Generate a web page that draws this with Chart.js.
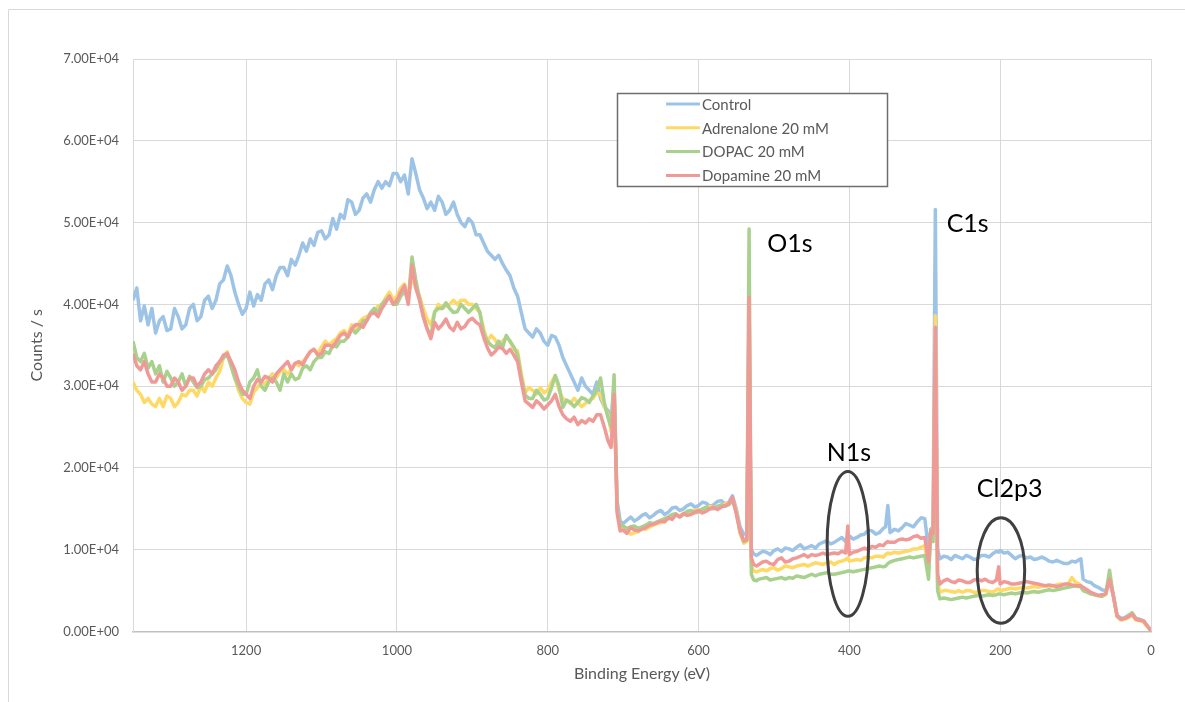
<!DOCTYPE html>
<html>
<head>
<meta charset="utf-8">
<script src="https://cdn.jsdelivr.net/npm/chart.js@4.4.1/dist/chart.umd.min.js"></script>
<style>
  html, body { margin: 0; padding: 0; background: #fff; }
  #wrap { width: 1185px; height: 702px; position: relative; }
</style>
</head>
<body>
<div id="wrap"><canvas id="xps"></canvas></div>
<script>
// binding energy grid (eV), shared by all four spectra, 10 points per row
const energyEV = [
  1350,1345,1340,1335,1330,1325,1320,1315,1310,1305,
  1300,1295,1290,1285,1280,1275,1270,1265,1260,1255,
  1250,1245,1240,1235,1230,1225,1220,1215,1210,1205,
  1200,1195,1190,1185,1180,1175,1170,1165,1160,1155,
  1150,1145,1140,1135,1130,1125,1120,1115,1110,1105,
  1100,1095,1090,1085,1080,1075,1070,1065,1060,1055,
  1050,1045,1040,1035,1030,1025,1020,1015,1010,1005,
  1000,995,990,985,980,975,970,965,960,955,
  950,945,940,935,930,925,920,915,910,905,
  900,895,890,885,880,875,870,865,860,855,
  850,845,840,835,830,825,820,815,810,805,
  800,795,790,785,780,775,770,765,760,755,
  750,745,740,735,730,725,720,716,712,708,
  704,700,695,690,685,680,675,670,665,660,
  655,650,645,640,635,630,625,620,615,610,
  605,600,595,590,585,580,575,570,565,560,
  555,550,545,540,536,533,530,527,523,520,
  515,510,505,500,495,490,485,480,475,470,
  465,460,455,450,445,440,435,430,425,420,
  415,410,405,402,400,395,390,385,380,375,
  370,365,360,355,352,349,346,340,335,330,
  325,320,315,310,305,300,295,292,289,286,
  283,280,275,270,265,260,255,250,245,240,
  235,230,225,220,215,210,205,202,200,195,
  190,185,180,175,170,165,160,155,150,145,
  140,135,130,125,120,115,110,105,100,95,
  93,90,85,80,75,70,65,60,55,50,
  45,40,35,30,25,20,15,10,5,0
];

// counts / s
const control = [
  40500,42000,38000,39800,37500,39500,36500,38000,38500,36800,
  37000,39500,38500,37000,37500,39500,40000,38000,38500,40500,
  41000,39500,40500,42500,43000,44700,43500,41500,40000,38800,
  39500,41500,39800,41200,40500,42500,43000,41800,43500,44500,
  44500,43500,45500,44800,46000,47500,46500,48000,47200,48800,
  49000,48000,48500,50500,49200,51000,50500,52800,52500,51000,
  51500,53000,53500,52500,54000,55000,54200,55000,54500,56000,
  56000,55000,55800,53500,57800,56000,54000,53000,51700,52500,
  51500,53200,52500,51000,51500,52500,51000,50000,49500,50500,
  50000,48500,48500,47500,46500,46000,45500,46000,45000,44200,
  43500,42000,41000,39000,37000,36500,36000,37000,36500,35500,
  35000,36200,36000,35000,33500,32500,31500,30500,29500,31000,
  30000,29500,29000,30500,28500,27500,27000,25500,30000,16000,
  13500,13200,13600,14000,13500,13800,14200,14400,13900,14200,
  14600,14800,14300,14600,15100,15200,14800,15000,15400,15600,
  15200,15400,15800,15700,15300,15500,15900,16000,15600,15800,
  16600,15000,12800,11900,12000,34000,10000,9500,9300,9500,
  9800,9700,9400,9900,10100,9800,10200,10100,9900,10300,
  10600,10100,10300,10500,10200,10700,10900,11100,10700,10900,
  11200,11500,11000,11300,11700,11300,11500,11800,11900,12400,
  12300,11900,12100,12600,12800,15400,12100,12500,12300,12700,
  13200,13000,12800,13400,13900,13800,10100,12500,12800,51600,
  10000,8900,9200,9100,8800,9300,9100,8900,9300,9100,
  8800,8900,9300,9300,9100,9500,9800,9700,9900,9600,
  9700,9300,8900,9200,9300,9000,9100,8800,8900,9100,
  8900,8600,8500,8700,8500,8300,8300,8600,8500,8800,
  8900,6400,6100,6000,5600,5400,5100,5000,6000,4500,
  2000,1600,1700,2000,2200,1600,1500,1300,700,100
];

const adrenalone = [
  30500,29500,29000,28000,28500,27800,27500,28500,27500,28800,
  28500,27500,28000,29000,28800,29500,29500,28800,30000,29300,
  30500,30000,31000,31800,33500,34200,32500,31000,29500,28500,
  28000,27800,29300,29800,30500,30200,31000,31500,31000,31800,
  32000,31500,32000,32800,32500,33000,33500,34200,34500,34000,
  34800,35500,35000,35500,35800,36500,36800,36200,37500,37000,
  37800,38300,38500,38800,39000,39800,40000,40800,41500,40500,
  41000,42000,42500,40500,43500,42000,41000,39500,38200,37500,
  39000,40000,39500,39800,40000,40500,40000,40500,40500,40000,
  40000,39500,39000,37000,35500,36200,35700,35000,35500,36000,
  35500,34500,34300,31500,29200,29800,29500,29000,29800,29200,
  29500,30500,31300,29500,28500,28200,27900,28500,28000,27500,
  27900,28300,28500,29200,29000,27500,26500,24500,29500,15000,
  12800,12700,12300,11900,12100,12200,12600,12500,12800,13000,
  13200,13300,13500,13800,14000,14200,14100,14500,14400,14600,
  14800,14900,14700,15000,15300,15200,15100,15400,15600,15700,
  16200,14800,12000,10800,11000,38000,8000,7400,7300,7400,
  7600,7400,7700,7800,7500,7700,8000,7900,7800,8000,
  8100,8200,8000,8200,8400,8300,8200,8400,8500,8200,
  8500,8600,8800,9000,8600,8700,8800,8700,9000,9100,
  9000,9200,9200,9100,9400,9600,9500,9700,9600,9700,
  9800,9900,10100,10100,10300,10500,7500,11500,11000,38600,
  6000,4800,5000,5000,4900,4800,5000,4800,5000,5000,
  4800,4800,5000,5000,4900,4800,5100,5200,5000,5100,
  5200,5300,5200,5300,5400,5300,5400,5500,5400,5500,
  5600,5500,5600,5700,5800,5700,5800,6600,6000,5800,
  5600,5200,4900,4600,4500,4400,4300,4500,6900,4300,
  1800,1400,1500,1700,2000,1400,1300,1200,600,100
];

const dopac = [
  35500,33500,33000,34000,32200,33000,31500,32500,30500,31800,
  31000,30000,30500,31500,30000,31200,30500,29800,30000,30800,
  31000,31500,32000,33000,33500,33800,32500,31000,30000,29000,
  29000,30500,31000,32000,30000,29500,30500,31000,30500,29500,
  31500,30500,31500,30800,31000,32200,32500,32000,33000,33500,
  33500,34200,34000,35000,34800,35500,35500,36000,37000,36500,
  37000,38000,38000,39000,39500,39000,40000,40500,41000,40000,
  40000,41000,41600,40500,45800,43000,40700,38500,37100,36000,
  39100,39500,39500,40200,39500,39000,39100,40000,39500,39000,
  39500,40000,39000,36500,35500,35000,34700,35500,34700,36200,
  35500,34800,33800,31000,28900,28500,28500,29500,29000,28300,
  28500,29800,31300,30000,27400,28300,28000,27500,28000,28600,
  28400,28000,28800,29500,31000,28000,26100,25000,31400,15000,
  13000,12900,12600,12800,12900,12600,12800,13000,13300,13200,
  13400,13600,13800,14000,14300,14400,14000,14300,14700,14800,
  14500,14600,15000,15200,15000,15000,15300,15500,15300,15500,
  16000,14600,12200,11000,11200,49200,7000,6300,6200,6400,
  6500,6600,6300,6400,6500,6600,6400,6600,6500,6800,
  6700,6600,6800,7000,6800,7000,7100,7200,7000,7000,
  7100,7200,7300,7400,7400,7300,7400,7500,7600,7700,
  7800,7900,8000,7900,8000,8300,8500,8700,8800,8900,
  9000,9100,9000,9100,9200,9300,6400,12500,11000,35000,
  5000,4000,4100,4000,3900,4000,4100,4200,4100,4200,
  4300,4400,4300,4400,4500,4400,4500,4600,4600,4500,
  4600,4700,4600,4700,4800,4700,4800,4900,4800,4900,
  5000,5100,5000,5100,5200,5300,5400,5500,5600,5500,
  5400,5000,4800,4600,4500,4400,4300,4600,7500,4400,
  1900,1500,1600,1900,2300,1600,1400,1300,700,100
];

const dopamine = [
  34000,32500,32000,33000,31500,30500,30500,31500,31000,30000,
  30000,31000,30500,29500,30000,31000,31000,30000,30500,31500,
  32000,31500,32500,33000,33800,34000,33000,32000,30500,29500,
  29000,28500,30000,30800,30500,31200,31000,30500,31500,32000,
  32500,33000,32000,32800,33000,32600,33500,34200,34500,33800,
  34000,35000,35000,34800,35500,36200,36500,36000,37000,37500,
  37500,37200,38000,38800,39000,38500,39500,40200,41000,40000,
  40500,41500,42300,40000,44800,42000,40500,38500,37000,35800,
  37800,37000,37500,38200,37200,36800,37800,37000,37300,38000,
  38300,37800,37500,36000,34700,33800,34200,34800,34600,34000,
  34500,33800,33000,30500,28200,27800,27400,28200,27800,27200,
  27700,28200,29000,27500,26500,26000,25700,26200,25300,25800,
  25500,26000,25700,26500,26500,25000,23300,22500,29000,14500,
  12300,12400,12000,12700,12400,12300,12500,12700,13000,13100,
  13300,13500,13400,13900,13700,14300,14000,14400,14200,14300,
  14600,14800,14500,14700,15000,15200,14900,15200,15400,15600,
  16400,14400,12300,11100,11200,40900,9000,8200,8000,8200,
  8500,8600,8300,8200,8800,9000,8500,8600,8900,9000,
  9200,9400,9100,9400,9300,9400,9600,9400,9500,9600,
  9500,9800,9600,12900,9400,9700,9800,10000,10200,10000,
  10400,10300,10600,10500,10800,11000,10900,10900,11200,11300,
  11200,11300,11600,11700,11400,11500,8500,12300,12000,37200,
  7000,5800,6200,6400,6100,6000,6300,6200,6000,6000,
  6300,6400,6200,6400,6100,6000,6300,7900,5800,6100,
  6000,5800,5800,5900,6000,6100,6000,5900,5800,5700,
  5600,5700,5600,5500,5600,5800,5800,5700,5600,5600,
  5600,5400,5100,4800,4600,4400,4500,4600,6400,4400,
  1900,1500,1600,1800,2100,1500,1400,1300,700,100
];

const seriesNames = ['Control', 'Adrenalone 20 mM', 'DOPAC 20 mM', 'Dopamine 20 mM'];
const seriesColors = ['#9dc3e6', '#ffd966', '#a9d18e', '#f09a98'];
const xTicks = [1200, 1000, 800, 600, 400, 200, 0];
const yTicks = [0, 10000, 20000, 30000, 40000, 50000, 60000, 70000];

// peak labels and rings, in data units (eV, counts/s)
const peakLabels = [
  { text: 'O1s', x: 509, y: 46400 },
  { text: 'C1s', x: 271, y: 48800 },
  { text: 'N1s', x: 430, y: 20900 },
  { text: 'Cl2p3', x: 231, y: 16500 }
];
const peakRings = [
  { x: 402, y: 10700, rx: 27.5, ry: 8850 },
  { x: 199, y: 7450, rx: 31.5, ry: 6450 }
];

const font = 'Lato, "Open Sans", sans-serif';

function sciLabel(v) {
  if (v === 0) return '0.00E+00';
  const e = Math.floor(Math.log10(v));
  const m = v / Math.pow(10, e);
  return m.toFixed(2) + 'E+' + String(e).padStart(2, '0');
}

const series = [control, adrenalone, dopac, dopamine];
const datasets = series.map((vals, i) => ({
  label: seriesNames[i],
  data: vals.map((v, k) => ({ x: energyEV[k], y: v })),
  borderColor: seriesColors[i],
  borderWidth: 3.5,
  pointRadius: 0,
  tension: 0,
  fill: false,
  borderJoinStyle: 'round',
  order: 3 - i
}));

// frame, peak annotations and the boxed legend
const extras = {
  id: 'extras',
  afterDraw(chart) {
    const ctx = chart.ctx;
    const xs = chart.scales.x, ys = chart.scales.y;
    ctx.save();

    ctx.strokeStyle = '#d9d9d9';
    ctx.lineWidth = 1;
    ctx.beginPath();
    ctx.moveTo(8.5, 702);
    ctx.lineTo(8.5, 9.5);
    ctx.lineTo(1185, 9.5);
    ctx.stroke();

    ctx.strokeStyle = '#404040';
    ctx.lineWidth = 3;
    peakRings.forEach(r => {
      const cx = xs.getPixelForValue(r.x), cy = ys.getPixelForValue(r.y);
      const rx = Math.abs(xs.getPixelForValue(r.x + r.rx) - cx);
      const ry = Math.abs(ys.getPixelForValue(r.y + r.ry) - cy);
      ctx.beginPath();
      ctx.ellipse(cx, cy, rx, ry, 0, 0, Math.PI * 2);
      ctx.stroke();
    });

    ctx.fillStyle = '#000';
    ctx.font = '25px ' + font;
    ctx.textAlign = 'left';
    ctx.textBaseline = 'alphabetic';
    peakLabels.forEach(p => {
      ctx.fillText(p.text, xs.getPixelForValue(p.x), ys.getPixelForValue(p.y));
    });

    // legend box
    const lx = 617.5, ly = 93.5, lw = 270, lh = 93;
    ctx.fillStyle = '#fff';
    ctx.fillRect(lx, ly, lw, lh);
    ctx.strokeStyle = '#6e6e6e';
    ctx.lineWidth = 1.5;
    ctx.strokeRect(lx, ly, lw, lh);
    ctx.font = '15px ' + font;
    ctx.textBaseline = 'middle';
    chart.data.datasets.forEach((ds, i) => {
      const yy = 104 + i * 23.8;
      ctx.strokeStyle = ds.borderColor;
      ctx.lineWidth = 3;
      ctx.beginPath();
      ctx.moveTo(666, yy);
      ctx.lineTo(700, yy);
      ctx.stroke();
      ctx.fillStyle = '#595959';
      ctx.fillText(ds.label, 702, yy + 1);
    });
    ctx.restore();
  }
};

new Chart(document.getElementById('xps'), {
  type: 'line',
  data: { datasets },
  options: {
    responsive: true,
    maintainAspectRatio: false,
    animation: false,
    devicePixelRatio: 1,
    layout: { padding: { left: 0, right: 34, top: 59, bottom: 0 } },
    plugins: { legend: { display: false }, tooltip: { enabled: false } },
    scales: {
      x: {
        type: 'linear',
        reverse: true,
        min: 0,
        max: 1350,
        afterBuildTicks: s => { s.ticks = xTicks.map(v => ({ value: v })); },
        afterFit: s => { s.height = 70.5; },
        grid: { color: '#d9d9d9', drawTicks: false },
        border: { color: '#bfbfbf', width: 1.5 },
        ticks: { padding: 12, color: '#595959', font: { family: font, size: 13 }, maxRotation: 0,
                 callback: v => String(v) },
        title: { display: true, text: 'Binding Energy (eV)', color: '#595959',
                 font: { family: font, size: 16 }, padding: { top: 0, bottom: 19 } }
      },
      y: {
        min: 0,
        max: 70000,
        afterBuildTicks: s => { s.ticks = yTicks.map(v => ({ value: v })); },
        afterFit: s => { s.width = 133; },
        grid: { color: '#d9d9d9', drawTicks: false },
        border: { color: '#d9d9d9', width: 1 },
        ticks: { padding: 14, color: '#595959', font: { family: font, size: 13 }, callback: v => sciLabel(v) },
        title: { display: true, text: 'Counts / s', color: '#595959',
                 font: { family: font, size: 16 }, padding: { top: 27, bottom: 0 } }
      }
    }
  },
  plugins: [extras]
});
</script>
</body>
</html>
